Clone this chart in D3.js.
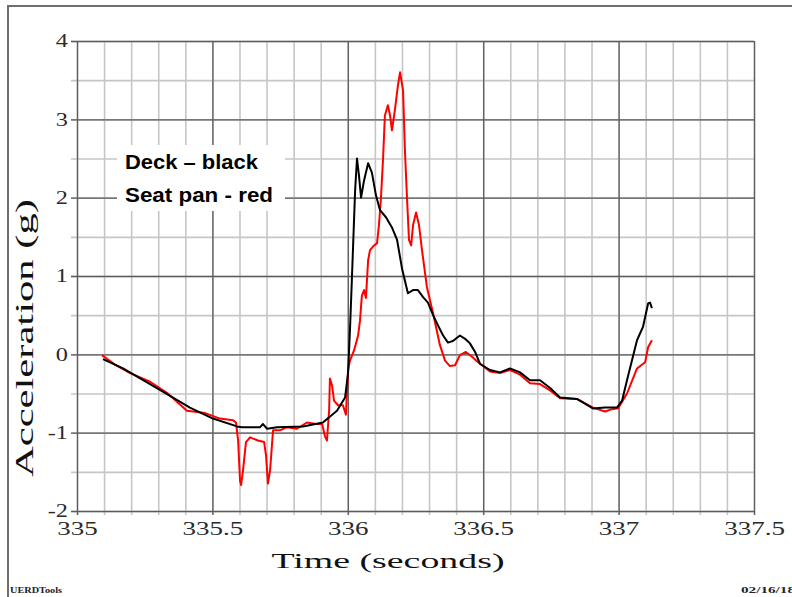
<!DOCTYPE html>
<html>
<head>
<meta charset="utf-8">
<script src="https://cdn.jsdelivr.net/npm/d3@7"></script>
<style>
  body { margin: 0; background: #fff; }
  svg { display: block; }
</style>
</head>
<body>
<svg id="chart" width="792" height="597"></svg>
<script>
// Axis ticks and their labels
const xMajorTicks = [335, 335.5, 336, 336.5, 337, 337.5];
const xTickLabels = ["335", "335.5", "336", "336.5", "337", "337.5"];
const yMajorTicks = [-2, -1, 0, 1, 2, 3, 4];
const yTickLabels = ["-2", "-1", "0", "1", "2", "3", "4"];

// Legend lines
const legendLines = ["Deck \u2013 black", "Seat pan - red"];

// Deck acceleration: [time (s), acceleration (g)]
const deck = [
  [335.096,-0.06],[335.170,-0.18],[335.295,-0.43],[335.417,-0.68],[335.502,-0.82],
  [335.591,-0.92],[335.609,-0.93],[335.676,-0.93],[335.687,-0.89],[335.702,-0.95],
  [335.739,-0.93],[335.835,-0.92],[335.908,-0.87],[335.960,-0.72],[335.990,-0.55],
  [336.001,-0.24],[336.008,0.31],[336.015,0.95],[336.019,1.33],[336.027,2.09],
  [336.034,2.50],[336.041,2.29],[336.049,2.00],[336.060,2.22],[336.075,2.44],
  [336.089,2.32],[336.104,2.03],[336.119,1.84],[336.141,1.75],[336.163,1.62],
  [336.182,1.46],[336.200,1.10],[336.222,0.78],[336.241,0.82],[336.259,0.82],
  [336.278,0.73],[336.296,0.66],[336.315,0.50],[336.333,0.37],[336.352,0.24],
  [336.370,0.15],[336.388,0.17],[336.414,0.24],[336.436,0.19],[336.451,0.14],
  [336.470,0.03],[336.488,-0.12],[336.525,-0.20],[336.562,-0.23],[336.599,-0.18],
  [336.636,-0.23],[336.673,-0.33],[336.710,-0.33],[336.747,-0.43],[336.784,-0.55],
  [336.846,-0.57],[336.905,-0.69],[336.950,-0.68],[336.994,-0.68],[337.013,-0.59],
  [337.031,-0.33],[337.068,0.18],[337.090,0.35],[337.109,0.65],[337.116,0.66],
  [337.123,0.59]
];

// Seat pan acceleration: [time (s), acceleration (g)]
const seatPan = [
  [335.092,-0.01],[335.140,-0.13],[335.196,-0.24],[335.270,-0.35],[335.332,-0.49],
  [335.406,-0.72],[335.473,-0.75],[335.528,-0.82],[335.576,-0.84],[335.587,-0.87],
  [335.595,-1.10],[335.602,-1.61],[335.606,-1.67],[335.613,-1.48],[335.624,-1.12],
  [335.639,-1.06],[335.668,-1.10],[335.691,-1.12],[335.698,-1.29],[335.705,-1.65],
  [335.713,-1.48],[335.724,-0.97],[335.750,-0.97],[335.775,-0.93],[335.812,-0.95],
  [335.849,-0.87],[335.883,-0.89],[335.905,-0.89],[335.916,-1.05],[335.923,-1.10],
  [335.931,-0.72],[335.934,-0.31],[335.942,-0.40],[335.949,-0.59],[335.964,-0.65],
  [335.982,-0.65],[335.993,-0.77],[336.001,-0.20],[336.008,-0.08],[336.023,0.05],
  [336.038,0.24],[336.045,0.43],[336.052,0.75],[336.060,0.82],[336.067,0.72],
  [336.075,1.20],[336.082,1.33],[336.097,1.39],[336.108,1.42],[336.115,1.65],
  [336.122,1.97],[336.130,2.48],[336.137,3.05],[336.148,3.18],[336.156,3.05],
  [336.163,2.86],[336.174,3.12],[336.185,3.43],[336.193,3.60],[336.204,3.37],
  [336.211,2.60],[336.219,1.97],[336.226,1.46],[336.234,1.39],[336.241,1.65],
  [336.252,1.81],[336.263,1.65],[336.274,1.33],[336.292,0.86],[336.315,0.52],
  [336.340,0.12],[336.359,-0.08],[336.377,-0.15],[336.396,-0.14],[336.414,-0.01],
  [336.436,0.03],[336.459,-0.03],[336.481,-0.10],[336.525,-0.22],[336.562,-0.24],
  [336.599,-0.20],[336.636,-0.26],[336.673,-0.37],[336.710,-0.38],[336.747,-0.46],
  [336.784,-0.56],[336.846,-0.57],[336.905,-0.68],[336.950,-0.73],[336.976,-0.70],
  [336.998,-0.69],[337.031,-0.50],[337.068,-0.18],[337.098,-0.10],[337.109,0.09],
  [337.123,0.18]
];

const svg = d3.select("#chart");
const plot = { left: 77, right: 754, top: 41, bottom: 511 };
const plotH = plot.bottom - plot.top;
const plotW = plot.right - plot.left;

const x = d3.scaleLinear().domain([335, 337.5]).range([plot.left, plot.right]);
const y = d3.scaleLinear().domain([-2, 4]).range([plot.bottom, plot.top]);

const xMinor = d3.range(26).map(i => 335 + i / 10);
const yMinor = d3.range(13).map(i => -2 + i / 2);

const serif = "'Liberation Serif', 'Times New Roman', serif";
const MINOR = "#c6c6c6", MAJOR = "#5c5c5c";

// Outer page frame (top and left edges)
svg.append("path")
  .attr("d", "M8,597 V6 H792")
  .attr("fill", "none")
  .attr("stroke", "#6e6e6e")
  .attr("stroke-width", 2);

// Grid lines with outward tick stubs
function gridX(values, color, width) {
  const g = svg.append("g")
    .attr("transform", `translate(0,${plot.bottom})`)
    .call(d3.axisBottom(x).tickValues(values).tickSize(-plotH).tickSizeOuter(0).tickFormat(""));
  g.select(".domain").remove();
  g.selectAll("line").attr("y1", 4).attr("stroke", color).attr("stroke-width", width);
}
function gridY(values, color, width) {
  const g = svg.append("g")
    .attr("transform", `translate(${plot.left},0)`)
    .call(d3.axisLeft(y).tickValues(values).tickSize(-plotW).tickSizeOuter(0).tickFormat(""));
  g.select(".domain").remove();
  g.selectAll("line").attr("x1", -6).attr("stroke", color).attr("stroke-width", width);
}
gridX(xMinor, MINOR, 1.6);
gridY(yMinor, MINOR, 1.6);
gridX(xMajorTicks, MAJOR, 1.3);
gridY(yMajorTicks, MAJOR, 1.3);

// Tick labels
const xLab = svg.append("g")
  .attr("transform", `translate(0,${plot.bottom})`)
  .call(d3.axisBottom(x).tickValues(xMajorTicks).tickSize(0).tickFormat((d, i) => xTickLabels[i]));
xLab.select(".domain").remove();
xLab.selectAll("text")
  .attr("y", 24).attr("dy", 0)
  .attr("transform", "scale(1.5,1)")
  .attr("font-family", serif).attr("font-size", 18).attr("fill", "#2a2a2a");

const yLab = svg.append("g")
  .attr("transform", `translate(${plot.left},0)`)
  .call(d3.axisLeft(y).tickValues(yMajorTicks).tickSize(0).tickFormat((d, i) => yTickLabels[i]));
yLab.select(".domain").remove();
yLab.selectAll("text")
  .attr("x", -9 / 1.35).attr("dy", "0.32em")
  .attr("transform", "scale(1.35,1)")
  .attr("font-family", serif).attr("font-size", 18).attr("fill", "#2a2a2a");

// Axis titles
svg.append("text")
  .attr("transform", "translate(33,338) rotate(-90)")
  .attr("text-anchor", "middle")
  .attr("font-family", serif).attr("font-size", 26).attr("fill", "#111")
  .attr("textLength", 278).attr("lengthAdjust", "spacingAndGlyphs")
  .text("Acceleration (g)");

svg.append("text")
  .attr("x", 388).attr("y", 568)
  .attr("text-anchor", "middle")
  .attr("font-family", serif).attr("font-size", 22).attr("fill", "#111")
  .attr("textLength", 233).attr("lengthAdjust", "spacingAndGlyphs")
  .text("Time (seconds)");

// Legend box
svg.append("rect")
  .attr("x", 117).attr("y", 145).attr("width", 168).attr("height", 66)
  .attr("fill", "#fff");
const legendLengths = [133, 148];
svg.selectAll("text.legend")
  .data(legendLines)
  .join("text")
  .attr("class", "legend")
  .attr("x", 125).attr("y", (d, i) => 169 + i * 33)
  .attr("font-family", "'Liberation Sans', Arial, sans-serif")
  .attr("font-weight", "bold").attr("font-size", 21).attr("fill", "#000")
  .attr("textLength", (d, i) => legendLengths[i]).attr("lengthAdjust", "spacingAndGlyphs")
  .text(d => d);

// Acceleration traces
const line = d3.line().x(d => x(d[0])).y(d => y(d[1]));
svg.append("path").datum(seatPan)
  .attr("d", line).attr("fill", "none")
  .attr("stroke", "#ff0000").attr("stroke-width", 2).attr("stroke-linejoin", "round");
svg.append("path").datum(deck)
  .attr("d", line).attr("fill", "none")
  .attr("stroke", "#000").attr("stroke-width", 2).attr("stroke-linejoin", "round");

// Footer
svg.append("text")
  .attr("x", 10).attr("y", 593)
  .attr("font-family", serif).attr("font-weight", "bold").attr("font-size", 8).attr("fill", "#222")
  .attr("textLength", 52).attr("lengthAdjust", "spacingAndGlyphs")
  .text("UERDTools");
svg.append("text")
  .attr("x", 741).attr("y", 593)
  .attr("font-family", serif).attr("font-weight", "bold").attr("font-size", 8).attr("fill", "#222")
  .attr("textLength", 54).attr("lengthAdjust", "spacingAndGlyphs")
  .text("02/16/18");
</script>
</body>
</html>
